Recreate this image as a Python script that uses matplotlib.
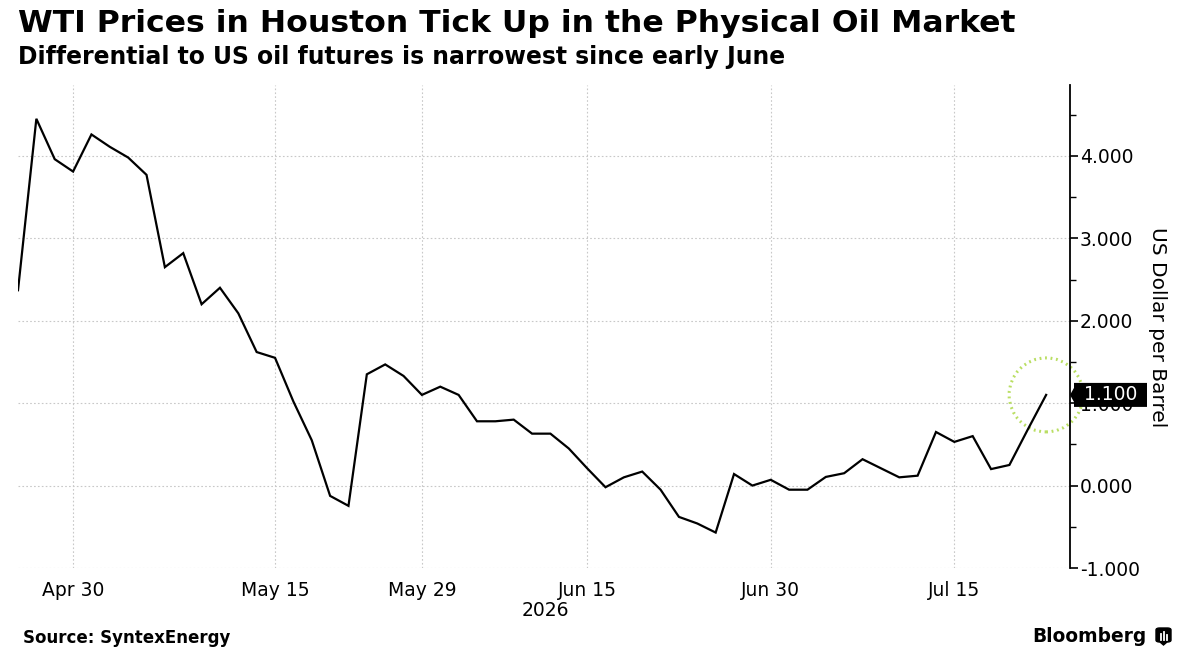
import numpy as np
import matplotlib
matplotlib.use("Agg")
import matplotlib.pyplot as plt
import matplotlib.transforms as mtransforms
from matplotlib.patches import Circle, FancyBboxPatch, Polygon
from matplotlib.ticker import MultipleLocator, FixedLocator, FuncFormatter

# ---------------- data ----------------
values = [2.37, 4.45, 3.96, 3.81, 4.26, 4.11, 3.98, 3.77, 2.65, 2.82,
          2.20, 2.40, 2.09, 1.62, 1.55, 1.02, 0.55, -0.125, -0.246, 1.35,
          1.47, 1.33, 1.10, 1.20, 1.10, 0.78, 0.78, 0.80, 0.63, 0.63,
          0.45, 0.21, -0.02, 0.10, 0.17, -0.05, -0.38, -0.46, -0.57, 0.14,
          0.00, 0.07, -0.05, -0.05, 0.105, 0.15, 0.32, 0.21, 0.10, 0.12,
          0.65, 0.53, 0.60, 0.20, 0.25, 0.68, 1.10]
tick_positions = [3, 14, 22, 31, 41, 51]
tick_labels = ["Apr 30", "May 15", "May 29", "Jun 15", "Jun 30", "Jul 15"]
year_label = "2026"
last_label = "1.100"

title = "WTI Prices in Houston Tick Up in the Physical Oil Market"
subtitle = "Differential to US oil futures is narrowest since early June"
source = "Source: SyntexEnergy"
ylabel = "US Dollar per Barrel"

# ---------------- figure ----------------
W, H = 1191, 654
fig = plt.figure(figsize=(W / 100, H / 100), dpi=100)
fig.patch.set_facecolor("white")

ax_left, ax_right, ax_top, ax_bot = 18, 1070, 85, 568
ax = fig.add_axes([ax_left / W, 1 - ax_bot / H, (ax_right - ax_left) / W, (ax_bot - ax_top) / H])

x = np.arange(len(values))
ax.plot(x, values, color="black", lw=1.6, solid_joinstyle="miter", zorder=3)

ax.set_xlim(0, 57.3)
ax.set_ylim(-1.0, 4.86)

for s in ["left", "top", "bottom"]:
    ax.spines[s].set_visible(False)
ax.spines["right"].set_linewidth(1.3)
ax.spines["right"].set_color("black")

ax.yaxis.tick_right()
ax.yaxis.set_major_locator(MultipleLocator(1.0))
ax.yaxis.set_minor_locator(MultipleLocator(0.5))
ax.yaxis.set_major_formatter(FuncFormatter(lambda v, p: f"{v:.3f}"))
ax.tick_params(axis="y", which="major", direction="out", length=6, width=1.2,
               pad=1, labelsize=13.5, colors="black")
ax.tick_params(axis="y", which="minor", direction="out", length=4, width=1.0)

ax.xaxis.set_major_locator(FixedLocator(tick_positions))
ax.set_xticklabels(tick_labels)
ax.tick_params(axis="x", which="both", length=0, pad=9, labelsize=13.5)

ax.grid(True, which="major", axis="both", color="#c8c8c8", linestyle=(0, (1.5, 2)), lw=0.8)
ax.set_axisbelow(True)

ax.text(0.501, -(610 - ax_bot) / (ax_bot - ax_top), year_label, transform=ax.transAxes,
        ha="center", va="center", fontsize=13.5)

# green dotted circle around last point
circ_trans = fig.dpi_scale_trans + mtransforms.ScaledTranslation(x[-1], values[-1], ax.transData)
circ = Circle((0, 0), radius=0.37, transform=circ_trans, fill=False,
              edgecolor="#b9de62", lw=2.2, linestyle=(0, (0.6, 1.2)), clip_on=False, zorder=2)
ax.add_patch(circ)

# last value label: black box with a small left-pointing notch (shape in inches)
blend = mtransforms.blended_transform_factory(ax.transAxes, ax.transData)
tag_trans = fig.dpi_scale_trans + mtransforms.ScaledTranslation(1.0, values[-1], blend)
tag = Polygon([(0.0, 0.0), (0.04, 0.07), (0.04, 0.12), (0.77, 0.12),
               (0.77, -0.12), (0.04, -0.12), (0.04, -0.07)], closed=True,
              transform=tag_trans, fc="black", ec="none", clip_on=False, zorder=9)
ax.add_patch(tag)
ax.text(0.405, 0.0, last_label, transform=tag_trans, ha="center", va="center",
        fontsize=13.5, color="white", zorder=10, clip_on=False)

# y label
fig.text(1158 / W, 1 - 327 / H, ylabel, rotation=270, ha="center", va="center", fontsize=14.5)

# ---------------- titles ----------------
renderer = fig.canvas.get_renderer()

def fit_text(xp, yp, s, target_w, weight="bold", **kw):
    t = fig.text(xp / W, 1 - yp / H, s, fontsize=20, fontweight=weight, **kw)
    w = t.get_window_extent(renderer).width
    t.set_fontsize(20 * target_w / w)
    return t

fit_text(18, 24, title, 997, va="center", ha="left")
fit_text(18, 57, subtitle, 770, va="center", ha="left")
fit_text(23, 638, source, 207, va="center", ha="left")
fit_text(1146, 637, "Bloomberg", 114, weight="bold", va="center", ha="right")

# Bloomberg logo
lx, ly, lw_, lh_ = 1156, 628, 15, 17
logo = FancyBboxPatch(((lx) / W, 1 - (ly + lh_ - 3) / H), lw_ / W, (lh_ - 3) / H,
                      boxstyle="round,pad=0.0,rounding_size=0.003",
                      transform=fig.transFigure, fc="black", ec="black")
fig.patches.append(logo)
tri_x = [(lx + 4) / W, (lx + 7.5) / W, (lx + 11) / W]
tri_y = [1 - (ly + lh_ - 3) / H, 1 - (ly + lh_) / H, 1 - (ly + lh_ - 3) / H]
fig.patches.append(plt.Polygon(list(zip(tri_x, tri_y)), closed=True, transform=fig.transFigure,
                               fc="black", ec="black"))
for bx, top in [(lx + 4.5, ly + 6), (lx + 7.5, ly + 4), (lx + 10.5, ly + 7)]:
    fig.lines.append(plt.Line2D([bx / W, bx / W], [1 - top / H, 1 - (ly + 12) / H],
                                transform=fig.transFigure, color="white", lw=1.3))

fig.savefig("out.png", dpi=100)
